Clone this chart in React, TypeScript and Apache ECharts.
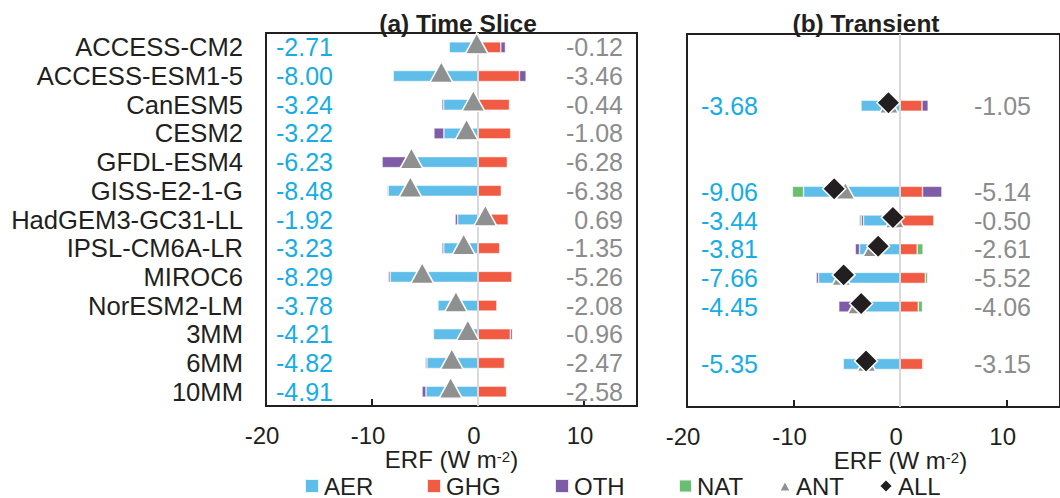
import React, { useEffect, useRef } from "react";
import * as echarts from "echarts";

// Models / multi-model means listed top to bottom
const MODELS = [
  "ACCESS-CM2",
  "ACCESS-ESM1-5",
  "CanESM5",
  "CESM2",
  "GFDL-ESM4",
  "GISS-E2-1-G",
  "HadGEM3-GC31-LL",
  "IPSL-CM6A-LR",
  "MIROC6",
  "NorESM2-LM",
  "3MM",
  "6MM",
  "10MM",
];

// (a) Time slice ERF components (W m-2)
const TS_AER = [-2.71, -8.0, -3.24, -3.22, -6.23, -8.48, -1.92, -3.23, -8.29, -3.78, -4.21, -4.82, -4.91];
const TS_GHG = [2.15, 3.91, 2.97, 3.08, 2.77, 2.2, 2.85, 2.05, 3.2, 1.78, 3.05, 2.5, 2.7];
const TS_OTH = [0.44, 0.63, -0.17, -0.94, -2.82, -0.1, -0.24, -0.17, -0.17, -0.08, 0.2, -0.15, -0.37];
const TS_ANT = [-0.12, -3.46, -0.44, -1.08, -6.28, -6.38, 0.69, -1.35, -5.26, -2.08, -0.96, -2.47, -2.58];

// (b) Transient ERF components (W m-2); null where a model has no transient estimate
const TR_AER = [null, null, -3.68, null, null, -9.06, -3.44, -3.81, -7.66, -4.45, null, -5.35, null];
const TR_GHG = [null, null, 2.05, null, null, 2.1, 3.16, 1.6, 2.36, 1.7, null, 2.12, null];
const TR_OTH = [null, null, 0.58, null, null, 1.82, -0.22, -0.4, -0.22, -1.31, null, 0.08, null];
const TR_NAT = [null, null, -0.05, null, null, -1.05, -0.18, 0.55, 0.22, 0.4, null, -0.05, null];
const TR_ANT = [null, null, -1.05, null, null, -5.14, -0.5, -2.61, -5.52, -4.06, null, -3.15, null];
const TR_ALL = [null, null, -1.1, null, null, -6.19, -0.68, -2.06, -5.3, -3.66, null, -3.2, null];

const C_AER = "#5ebde9";
const C_GHG = "#f15b43";
const C_OTH = "#7f5ca8";
const C_NAT = "#69be72";
const C_ANT = "#8f9191";
const C_ALL = "#231f20";
const C_INK = "#231f20";
const C_BLUE_TXT = "#17ade4";
const C_GREY_TXT = "#8c8c8c";
const FONT = '"Liberation Sans", Arial, Helvetica, sans-serif';

const fmt = (v: number | null) => (v == null ? "" : v.toFixed(2));
const points = (vals: (number | null)[]) =>
  vals.map((v, i) => (v == null ? null : [v, MODELS[i]])).filter((p) => p !== null);

const zeroLine = {
  silent: true,
  symbol: ["none", "none"],
  label: { show: false },
  lineStyle: { color: "#d9d9d9", width: 2, type: "solid" },
  data: [{ xAxis: 0 }],
  z: 5,
};

const barStyle = (color: string) => ({
  color,
  borderColor: "rgba(255,255,255,0.85)",
  borderWidth: 0.6,
});

const xAxisFor = (gridIndex: number, namePad: number[]) => ({
  type: "value",
  gridIndex,
  min: -20,
  max: 15,
  interval: 10,
  axisLine: { show: false },
  axisTick: { show: true, inside: true, length: 7, lineStyle: { color: C_INK, width: 2 } },
  splitLine: { show: false },
  axisLabel: {
    fontSize: 24,
    lineHeight: 22,
    color: C_INK,
    margin: 18,
    padding: [0, 8, 0, 0],
    showMaxLabel: false,
    formatter: (v: number) => (v > 10 ? "" : String(v)),
  },
  name: "ERF (W m{sup|-2})",
  nameLocation: "middle",
  nameGap: 43,
  nameMoveOverlap: false,
  nameTextStyle: {
    fontSize: 24,
    lineHeight: 21,
    color: C_INK,
    padding: namePad,
    rich: { sup: { fontSize: 15, lineHeight: 21, verticalAlign: "top", color: C_INK } },
  },
});

const catAxis = (gridIndex: number, extra: any) => ({
  type: "category",
  gridIndex,
  data: MODELS,
  inverse: true,
  axisLine: { show: false },
  axisTick: { show: false },
  splitLine: { show: false },
  ...extra,
});

const legendItem = (name: string, icon: string, left: number, w: number, h: number) => ({
  left,
  top: 474,
  padding: 0,
  itemGap: 0,
  itemWidth: w,
  itemHeight: h,
  selectedMode: false,
  data: [{ name, icon }],
  textStyle: { fontSize: 24, lineHeight: 23, color: C_INK },
});

const option = {
  animation: false,
  textStyle: { fontFamily: FONT },
  graphic: [
    {
      type: "text",
      x: 458,
      y: 23,
      style: {
        text: "(a) Time Slice",
        fontSize: 24.5,
        fontWeight: "bold",
        fontFamily: FONT,
        fill: C_INK,
        align: "center",
        verticalAlign: "middle",
      },
    },
    {
      type: "text",
      x: 866,
      y: 23,
      style: {
        text: "(b) Transient",
        fontSize: 24.5,
        fontWeight: "bold",
        fontFamily: FONT,
        fill: C_INK,
        align: "center",
        verticalAlign: "middle",
      },
    },
  ],
  grid: [
    { left: 266, top: 33, width: 371, height: 373, show: true, borderColor: C_INK, borderWidth: 2, backgroundColor: "transparent" },
    { left: 687, top: 34, width: 380, height: 373, show: true, borderColor: C_INK, borderWidth: 2, backgroundColor: "transparent" },
  ],
  xAxis: [xAxisFor(0, [0, 0, 0, 0]), xAxisFor(1, [0, 0, 0, 54])],
  yAxis: [
    catAxis(0, { position: "left", axisLabel: { interval: 0, fontSize: 25.6, color: C_INK, margin: 23 } }),
    catAxis(0, {
      position: "left",
      axisLabel: { interval: 0, inside: true, margin: 10, fontSize: 25, color: C_BLUE_TXT, formatter: (_v: string, i: number) => fmt(TS_AER[i]) },
    }),
    catAxis(0, {
      position: "right",
      axisLabel: { interval: 0, inside: true, margin: 14, fontSize: 25, color: C_GREY_TXT, padding: [0, 0, 5, 0], formatter: (_v: string, i: number) => fmt(TS_ANT[i]) },
    }),
    catAxis(1, { position: "left", axisLabel: { show: false } }),
    catAxis(1, {
      position: "left",
      axisLabel: { interval: 0, inside: true, margin: 14, fontSize: 25, color: C_BLUE_TXT, formatter: (_v: string, i: number) => fmt(TR_AER[i]) },
    }),
    catAxis(1, {
      position: "right",
      axisLabel: { interval: 0, inside: true, margin: 29, fontSize: 25, color: C_GREY_TXT, padding: [0, 0, 5, 0], formatter: (_v: string, i: number) => fmt(TR_ANT[i]) },
    }),
  ],
  legend: [
    legendItem("AER", "rect", 304, 14, 14),
    legendItem("GHG", "rect", 426, 14, 14),
    legendItem("OTH", "rect", 554, 14, 14),
    legendItem("NAT", "rect", 678, 13, 13),
    legendItem("ANT", "triangle", 778, 12, 11),
    legendItem("ALL", "diamond", 878, 14, 14),
  ],
  series: [
    // (a) Time slice
    { name: "AER", type: "bar", xAxisIndex: 0, yAxisIndex: 0, stack: "ts", barWidth: 11, data: TS_AER, itemStyle: barStyle(C_AER), markLine: zeroLine },
    { name: "GHG", type: "bar", xAxisIndex: 0, yAxisIndex: 0, stack: "ts", barWidth: 11, data: TS_GHG, itemStyle: barStyle(C_GHG) },
    { name: "OTH", type: "bar", xAxisIndex: 0, yAxisIndex: 0, stack: "ts", barWidth: 11, data: TS_OTH, itemStyle: barStyle(C_OTH) },
    {
      name: "ANT",
      type: "scatter",
      xAxisIndex: 0,
      yAxisIndex: 0,
      symbol: "triangle",
      symbolSize: [23, 21],
      symbolOffset: [0, -4],
      z: 10,
      data: points(TS_ANT),
      itemStyle: { color: C_ANT, borderColor: "#fff", borderWidth: 1.5, opacity: 1 },
    },
    // (b) Transient
    { name: "AER", type: "bar", xAxisIndex: 1, yAxisIndex: 3, stack: "tr", barWidth: 11, data: TR_AER, itemStyle: barStyle(C_AER), markLine: zeroLine },
    { name: "GHG", type: "bar", xAxisIndex: 1, yAxisIndex: 3, stack: "tr", barWidth: 11, data: TR_GHG, itemStyle: barStyle(C_GHG) },
    { name: "OTH", type: "bar", xAxisIndex: 1, yAxisIndex: 3, stack: "tr", barWidth: 11, data: TR_OTH, itemStyle: barStyle(C_OTH) },
    { name: "NAT", type: "bar", xAxisIndex: 1, yAxisIndex: 3, stack: "tr", barWidth: 11, data: TR_NAT, itemStyle: barStyle(C_NAT) },
    {
      name: "ANT",
      type: "scatter",
      xAxisIndex: 1,
      yAxisIndex: 3,
      symbol: "triangle",
      symbolSize: [19, 17],
      symbolOffset: [0, -1],
      z: 10,
      data: points(TR_ANT),
      itemStyle: { color: C_ANT, borderColor: "#fff", borderWidth: 1.5, opacity: 1 },
    },
    {
      name: "ALL",
      type: "scatter",
      xAxisIndex: 1,
      yAxisIndex: 3,
      symbol: "diamond",
      symbolSize: 23,
      symbolOffset: [0, -3],
      z: 11,
      data: points(TR_ALL),
      itemStyle: { color: C_ALL, borderColor: "#fff", borderWidth: 1.5, opacity: 1 },
    },
  ],
};

export default function App() {
  const ref = useRef<HTMLDivElement>(null);
  useEffect(() => {
    if (!ref.current) return;
    const chart = echarts.init(ref.current, null, { renderer: "svg" });
    chart.setOption(option as any);
    return () => chart.dispose();
  }, []);
  return (
    <div
      ref={ref}
      style={{ position: "fixed", left: 0, top: 0, width: 1060, height: 498, background: "#fff" }}
    />
  );
}
